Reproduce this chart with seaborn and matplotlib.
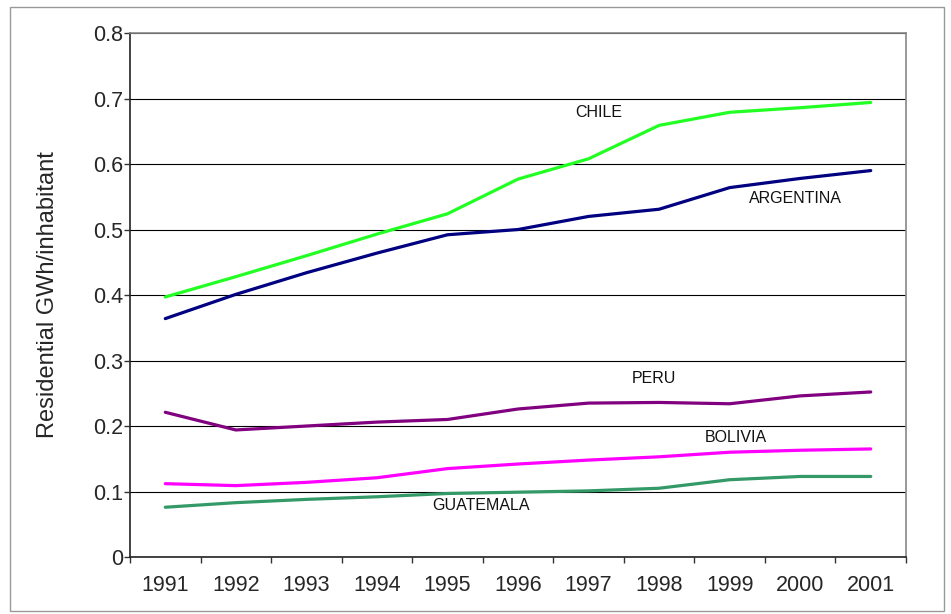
import pandas as pd
import matplotlib.pyplot as plt
import seaborn as sns
from matplotlib.patches import Rectangle

years = ['1991', '1992', '1993', '1994', '1995', '1996', '1997', '1998', '1999', '2000', '2001']
chile = [0.397, 0.428, 0.460, 0.493, 0.524, 0.577, 0.608, 0.659, 0.679, 0.686, 0.694]
argentina = [0.364, 0.401, 0.434, 0.464, 0.492, 0.500, 0.520, 0.531, 0.564, 0.578, 0.590]
peru = [0.221, 0.194, 0.200, 0.206, 0.210, 0.226, 0.235, 0.236, 0.234, 0.246, 0.252]
bolivia = [0.112, 0.109, 0.114, 0.121, 0.135, 0.142, 0.148, 0.153, 0.160, 0.163, 0.165]
guatemala = [0.076, 0.083, 0.088, 0.092, 0.097, 0.099, 0.101, 0.105, 0.118, 0.123, 0.123]

countries = ['CHILE', 'ARGENTINA', 'PERU', 'BOLIVIA', 'GUATEMALA']
colors = ['#22FF22', '#000080', '#800080', '#FF00FF', '#339966']

rows = []
for name, vals in zip(countries, [chile, argentina, peru, bolivia, guatemala]):
    for i, v in enumerate(vals):
        rows.append({'idx': i, 'value': v, 'country': name})
df = pd.DataFrame(rows)

sns.set_style('white')
plt.rcParams['font.family'] = ['Liberation Sans', 'DejaVu Sans']

fig = plt.figure(figsize=(9.51, 6.14), dpi=100)
ax = fig.add_axes([0.1367, 0.0928, 0.816, 0.8534])

sns.lineplot(data=df, x='idx', y='value', hue='country', palette=colors,
             hue_order=countries, linewidth=2.3, legend=False, ax=ax)

ax.set_xlim(-0.5, len(years) - 0.5)
ax.set_ylim(0, 0.8)
ax.set_yticks([i / 10 for i in range(9)])
ax.set_yticklabels(['0', '0.1', '0.2', '0.3', '0.4', '0.5', '0.6', '0.7', '0.8'], fontsize=15.5)
ax.yaxis.grid(True, color='black', linewidth=0.8)
ax.set_axisbelow(True)

# category boundaries get the tick marks, labels sit in between
ax.set_xticks([i - 0.5 for i in range(len(years) + 1)])
ax.set_xticklabels([])
ax.set_xticks(range(len(years)), minor=True)
ax.set_xticklabels(years, minor=True, fontsize=15.5)
ax.tick_params(axis='x', which='major', direction='out', length=4, width=1, color='#333333', bottom=True)
ax.tick_params(axis='x', which='minor', length=0, pad=13)
ax.tick_params(axis='y', direction='out', length=4, width=1, color='#333333', left=True, pad=1)

ax.set_xlabel('')
ax.set_ylabel('Residential GWh/inhabitant', fontsize=17)
ax.yaxis.set_label_coords(-0.091, 0.5)

for side in ['left', 'bottom']:
    ax.spines[side].set_color('#222222')
    ax.spines[side].set_linewidth(1.2)
for side in ['top', 'right']:
    ax.spines[side].set_color('#888888')
    ax.spines[side].set_linewidth(1.2)

labels = [('CHILE', 6.14, 0.679), ('ARGENTINA', 8.93, 0.548), ('PERU', 6.93, 0.272),
          ('BOLIVIA', 8.09, 0.183), ('GUATEMALA', 4.48, 0.078)]
for txt, x, y in labels:
    ax.text(x, y, txt, ha='center', va='center', fontsize=11.5, color='#111111')

fig.patches.append(Rectangle((0.0105, 0.005), 0.982, 0.9836, transform=fig.transFigure,
                             fill=False, edgecolor='#999999', linewidth=1))

plt.savefig('out.png', dpi=100)
